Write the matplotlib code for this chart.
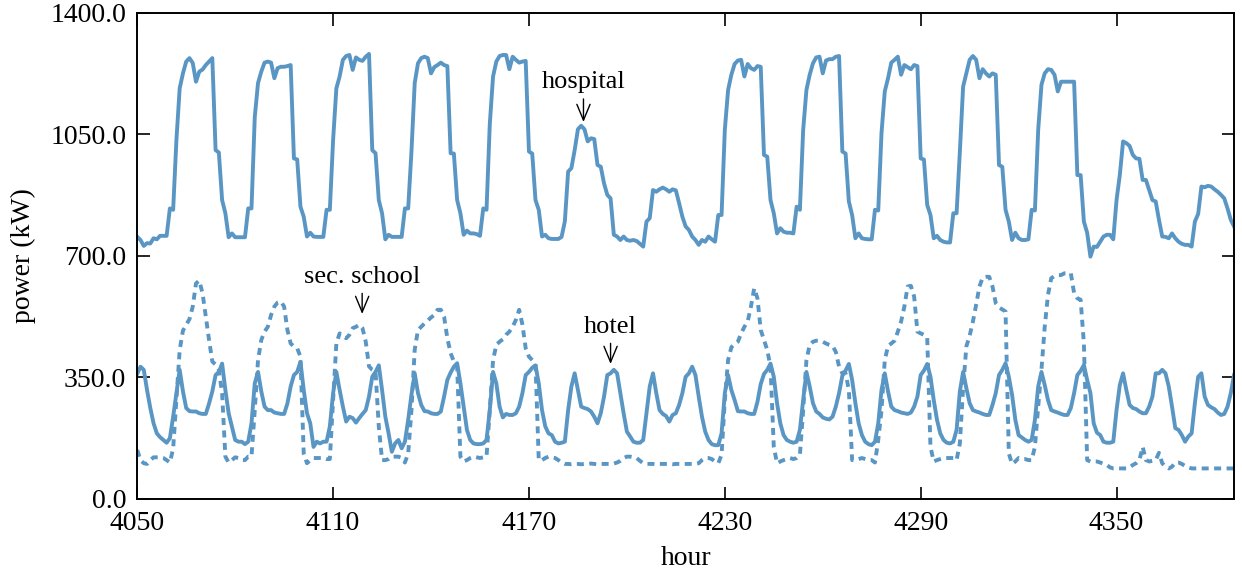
import numpy as np
import matplotlib
matplotlib.use("Agg")
import matplotlib.pyplot as plt
from matplotlib.ticker import FormatStrFormatter

plt.rcParams['font.family'] = ['Liberation Serif', 'DejaVu Serif']

start_hour = 4050

# hourly power (kW), one row per day, plus the final hour
hospital = [
    755, 746, 729, 737, 736, 751, 748, 758, 758, 758, 837, 833, 1034, 1183, 1226, 1260, 1270, 1256, 1202, 1231, 1237, 1250, 1260, 1270,
    1005, 998, 861, 823, 754, 765, 754, 754, 754, 754, 837, 837, 1100, 1198, 1231, 1257, 1260, 1257, 1212, 1241, 1245, 1245, 1247, 1250,
    981, 978, 842, 813, 756, 767, 756, 755, 755, 755, 833, 833, 1034, 1183, 1217, 1265, 1276, 1279, 1236, 1272, 1265, 1262, 1274, 1282,
    1005, 996, 861, 823, 748, 761, 755, 755, 755, 755, 837, 837, 1000, 1198, 1255, 1270, 1274, 1270, 1226, 1244, 1250, 1257, 1250, 1247,
    996, 995, 861, 823, 761, 773, 765, 765, 763, 758, 837, 833, 1080, 1217, 1260, 1276, 1279, 1279, 1238, 1274, 1265, 1257, 1260, 1262,
    1001, 995, 861, 833, 756, 761, 751, 749, 749, 749, 755, 800, 943, 953, 1005, 1065, 1075, 1065, 1030, 1039, 1037, 962, 957, 909,
    876, 866, 761, 756, 746, 756, 746, 744, 746, 743, 735, 727, 799, 809, 890, 885, 892, 897, 892, 885, 892, 889, 852, 813,
    785, 775, 756, 746, 732, 746, 741, 756, 748, 741, 818, 818, 1063, 1178, 1222, 1253, 1263, 1265, 1217, 1253, 1241, 1236, 1247, 1245,
    991, 986, 861, 823, 765, 780, 770, 767, 767, 765, 842, 833, 1063, 1178, 1222, 1255, 1272, 1274, 1226, 1263, 1267, 1267, 1274, 1276,
    1001, 995, 857, 818, 751, 765, 751, 749, 748, 748, 833, 831, 1054, 1174, 1212, 1257, 1265, 1274, 1222, 1250, 1244, 1238, 1250, 1247,
    981, 978, 847, 818, 751, 758, 746, 741, 739, 739, 823, 823, 1000, 1188, 1226, 1265, 1276, 1265, 1212, 1238, 1226, 1217, 1226, 1222,
    962, 957, 833, 799, 746, 767, 751, 746, 746, 748, 833, 831, 1063, 1193, 1226, 1238, 1236, 1222, 1174, 1202, 1202, 1202, 1202, 1202,
    933, 933, 799, 767, 698, 727, 726, 741, 756, 761, 761, 748, 861, 933, 1030, 1025, 1017, 991, 981, 980, 919, 919, 890, 861,
    857, 804, 756, 755, 751, 765, 751, 741, 735, 732, 732, 727, 799, 821, 900, 898, 902, 900, 892, 885, 876, 866, 837, 804,
    785,
]

school = [
    141, 112, 103, 101, 112, 120, 120, 120, 118, 112, 105, 145, 285, 429, 485, 502, 518, 554, 621, 629, 593, 525, 458, 396,
    387, 372, 304, 122, 105, 112, 120, 118, 112, 112, 122, 122, 255, 400, 458, 482, 496, 530, 554, 566, 569, 554, 487, 448,
    439, 434, 410, 131, 103, 112, 118, 118, 118, 118, 115, 115, 285, 448, 477, 470, 463, 473, 492, 496, 502, 492, 453, 382,
    372, 367, 208, 112, 112, 115, 122, 122, 122, 118, 105, 131, 255, 430, 487, 496, 506, 514, 523, 530, 545, 545, 525, 463,
    420, 396, 381, 122, 108, 112, 118, 122, 120, 118, 120, 122, 255, 400, 444, 453, 460, 473, 482, 496, 516, 545, 502, 434,
    410, 400, 391, 112, 112, 118, 122, 120, 118, 112, 105, 101, 101, 100, 101, 101, 100, 101, 101, 102, 101, 100, 101, 101,
    101, 101, 102, 105, 110, 118, 122, 122, 120, 118, 110, 103, 101, 101, 101, 100, 101, 101, 101, 101, 100, 101, 101, 101,
    101, 101, 101, 101, 103, 112, 118, 118, 115, 108, 103, 127, 285, 400, 437, 446, 453, 477, 496, 511, 554, 607, 578, 487,
    458, 429, 381, 150, 103, 108, 112, 115, 118, 115, 118, 127, 255, 400, 444, 453, 456, 456, 453, 448, 444, 441, 424, 381,
    362, 362, 314, 112, 112, 115, 118, 115, 112, 112, 105, 170, 255, 400, 441, 448, 456, 482, 511, 554, 612, 614, 583, 482,
    477, 473, 466, 150, 108, 112, 115, 118, 118, 118, 118, 112, 160, 320, 440, 470, 511, 560, 612, 638, 640, 640, 612, 564,
    552, 546, 540, 131, 101, 108, 118, 115, 115, 112, 112, 150, 266, 372, 496, 588, 636, 642, 645, 645, 650, 650, 650, 593,
    578, 574, 448, 112, 108, 108, 108, 105, 101, 98, 91, 88, 88, 88, 88, 88, 91, 98, 103, 112, 150, 112, 108, 110,
    112, 133, 103, 93, 88, 93, 105, 105, 101, 95, 91, 88, 88, 88, 88, 88, 88, 88, 88, 88, 88, 88, 88, 88,
    88,
]

hotel = [
    361, 381, 372, 314, 262, 218, 189, 178, 170, 162, 175, 237, 305, 372, 310, 262, 253, 252, 252, 247, 245, 245, 275, 310,
    357, 366, 390, 314, 247, 209, 170, 165, 165, 158, 165, 218, 333, 366, 310, 266, 256, 256, 249, 247, 245, 245, 275, 324,
    357, 366, 395, 314, 247, 218, 150, 165, 160, 165, 165, 209, 305, 366, 314, 266, 223, 237, 233, 220, 233, 245, 256, 295,
    352, 366, 385, 314, 237, 189, 136, 160, 170, 146, 165, 228, 300, 362, 305, 271, 253, 252, 247, 245, 245, 252, 295, 343,
    364, 381, 391, 333, 266, 199, 170, 160, 158, 158, 160, 170, 256, 366, 333, 266, 235, 245, 242, 242, 247, 266, 305, 357,
    366, 378, 385, 333, 256, 209, 189, 184, 165, 160, 162, 165, 256, 324, 362, 314, 266, 262, 259, 252, 237, 218, 247, 295,
    357, 362, 372, 362, 305, 247, 194, 180, 165, 162, 162, 170, 247, 324, 362, 305, 256, 245, 239, 223, 242, 247, 271, 305,
    352, 362, 381, 357, 295, 237, 194, 170, 158, 155, 155, 189, 305, 357, 314, 285, 253, 252, 252, 247, 245, 245, 280, 331,
    360, 372, 390, 352, 276, 218, 184, 170, 165, 162, 165, 199, 285, 366, 324, 276, 252, 245, 235, 231, 229, 237, 266, 305,
    355, 370, 389, 343, 276, 218, 184, 165, 158, 155, 165, 218, 314, 362, 310, 266, 256, 253, 249, 247, 245, 249, 266, 295,
    357, 370, 389, 352, 285, 228, 189, 170, 162, 160, 165, 199, 310, 366, 319, 276, 256, 252, 249, 245, 242, 242, 271, 305,
    357, 372, 391, 352, 300, 228, 184, 177, 170, 165, 170, 228, 324, 366, 328, 285, 256, 252, 249, 245, 242, 242, 262, 305,
    357, 369, 386, 343, 305, 218, 191, 184, 165, 162, 162, 165, 256, 328, 362, 314, 271, 262, 259, 252, 247, 247, 266, 295,
    362, 362, 372, 362, 324, 266, 204, 199, 184, 165, 180, 189, 276, 352, 362, 295, 271, 264, 259, 249, 242, 245, 266, 305,
    357,
]

hours = start_hour + np.arange(len(hospital))
x_ticks = [4050, 4110, 4170, 4230, 4290, 4350]
y_ticks = [0, 350, 700, 1050, 1400]

color = '#5a96c4'
fs = 20

fig = plt.figure(figsize=(12.42, 5.74), dpi=100)
ax = fig.add_axes([0.1105, 0.1307, 0.8831, 0.8467])

ax.plot(hours, hospital, color=color, lw=2.8)
ax.plot(hours, hotel, color=color, lw=2.8)
ax.plot(hours, school, color=color, lw=2.8, ls=(0, (1.8, 1.4)))

arrow = dict(arrowstyle='->, head_length=0.6, head_width=0.25',
             color='black', lw=1.0, shrinkA=2, shrinkB=0)
ax.annotate('hospital', xy=(4186.7, 1086), xytext=(4186.7, 1200),
            ha='center', va='center', fontsize=19, arrowprops=arrow)
ax.annotate('sec. school', xy=(4118.9, 533), xytext=(4118.9, 640),
            ha='center', va='center', fontsize=19, arrowprops=arrow)
ax.annotate('hotel', xy=(4195, 389), xytext=(4195, 496),
            ha='center', va='center', fontsize=19, arrowprops=arrow)

ax.set_xlim(4050, 4386)
ax.set_ylim(0, 1400)
ax.set_xticks(x_ticks)
ax.set_yticks(y_ticks)
ax.yaxis.set_major_formatter(FormatStrFormatter('%.1f'))
ax.tick_params(direction='in', length=9, width=1.2, labelsize=fs,
               top=True, right=True)
ax.tick_params(axis='x', pad=9)
ax.tick_params(axis='y', pad=8)
for s in ax.spines.values():
    s.set_linewidth(1.4)

ax.set_xlabel('hour', fontsize=fs, labelpad=7)
ax.set_ylabel('power (kW)', fontsize=fs, labelpad=10)

fig.savefig('out.png', dpi=100)
